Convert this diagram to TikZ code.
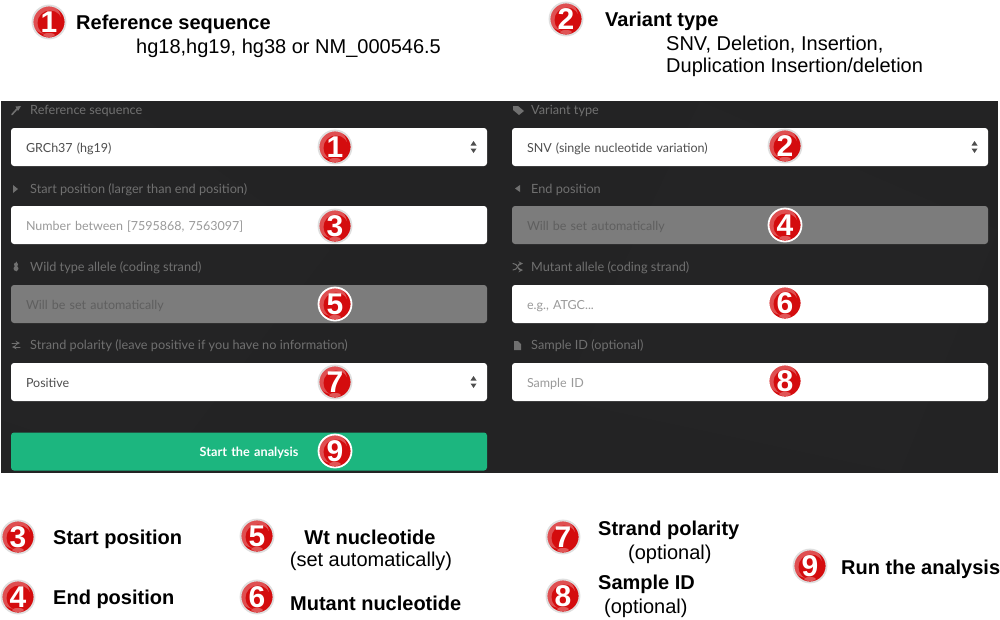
\documentclass[tikz,border=0pt]{standalone}
\usepackage{fontspec}
\setmainfont{Liberation Sans}
\newfontfamily\uifont{Lato}
\definecolor{panelbg}{HTML}{232324}
\definecolor{labelgray}{HTML}{707070}
\definecolor{hintgray}{HTML}{9A9A9A}
\definecolor{offgray}{HTML}{7C7C7C}
\definecolor{offtext}{HTML}{5F5F5F}
\definecolor{valuegray}{HTML}{4E4E4E}
\definecolor{runVgreen}{HTML}{1CB67F}
\definecolor{badgered}{HTML}{D40C0E}
\begin{document}
\begin{tikzpicture}[x=1pt,y=-1pt,line join=round,line cap=round]
	\tikzset{
		badge/.style={circle,minimum size=33pt,inner sep=0pt,draw=#1,line width=1.8pt,fill=badgered,text=white,font=\fontsize{30}{30}\selectfont\bfseries,
			path picture={\fill[white,opacity=0.28] ([xshift=-3pt,yshift=3pt]path picture bounding box.center) circle (15pt);
				\fill[badgered] ([xshift=1pt,yshift=-1pt]path picture bounding box.center) circle (12.5pt);
				\fill[white,opacity=0.3] ([yshift=-13pt]path picture bounding box.center) ellipse (6pt and 2pt);}},
		badge/.default=gray!25,
		title/.style={font=\fontsize{20}{20}\selectfont\bfseries,anchor=west,inner sep=0pt,yshift=-1pt},
		plain/.style={font=\fontsize{20}{20}\selectfont,anchor=west,inner sep=0pt,yshift=-1pt},
		fieldlabel/.style={font=\uifont\fontsize{12.7}{12.7}\selectfont,text=labelgray,anchor=west,inner sep=0pt,yshift=-1pt},
		fieldbox/.style={rectangle,rounded corners=3pt,minimum width=476pt,minimum height=38pt,text width=446pt,text height=10pt,text depth=0pt,inner sep=0pt,align=left,fill=white,font=\uifont\fontsize{12.5}{12.5}\selectfont},
		icon/.style={fill=labelgray,draw=none}
	}
	\useasboundingbox (0,0) rectangle (1000,619);
	\fill[white] (0,0) rectangle (1000,619);
	% dark form
	\fill[panelbg] (1,101) rectangle (998,473);
	\fill[white,opacity=0.008] (120,101)--(330,250)--(160,473)--(1,420)--(1,101)--cycle;
	\fill[white,opacity=0.008] (700,101)--(998,230)--(900,473)--(560,400)--cycle;
	% labels of the fields
	\node[fieldlabel] (lblref) at (30,110) {Reference sequence};
	\node[fieldlabel] (lblstart) at (30,188.5) {Start position (larger than end position)};
	\node[fieldlabel] (lblwt) at (30,266.5) {Wild type allele (coding strand)};
	\node[fieldlabel] (lblstrand) at (30,345) {Strand polarity (leave positive if you have no information)};
	\node[fieldlabel] (lblvar) at (531,110) {Variant type};
	\node[fieldlabel] (lblend) at (531,188.5) {End position};
	\node[fieldlabel] (lblmut) at (531,266.5) {Mutant allele (coding strand)};
	\node[fieldlabel] (lblsample) at (531,345) {Sample ID (optional)};
	% small icons
	\draw[labelgray,line width=1.6pt] (12,114.5)--(17,109);
	\fill[icon] (15.5,106.5)--(21,106)--(18,111)--cycle;
	\fill[icon] (13,185)--(18,189)--(13,193)--cycle;
	\fill[icon] (16,264.5) circle (2pt) (16,268.5) circle (2.5pt);
	\draw[labelgray,line width=0.9pt] (16,262)--(16,271);
	\draw[labelgray,line width=1pt,->,>=stealth] (12,343)--(20,343);
	\draw[labelgray,line width=1pt,->,>=stealth] (20,347)--(12,347);
	\fill[icon] (513,106)--(518,106)--(524,111)--(519,115)--(513,110)--cycle;
	\fill[icon] (520,185)--(515,188.5)--(520,192)--cycle;
	\draw[labelgray,line width=1pt,->,>=stealth] (513,263.5)..controls (518,263.5) and (518,270)..(523,270);
	\draw[labelgray,line width=1pt,->,>=stealth] (513,270)..controls (518,270) and (518,263.5)..(523,263.5);
	\fill[icon] (514,341)--(518,341)--(521,344)--(521,350)--(514,350)--cycle;
	% input boxes
	\node[fieldbox,text=valuegray] (boxref) at (249,147) {GRCh37 (hg19)};
	\node[fieldbox,text=hintgray] (boxstart) at (249,225) {Number between [7595868, 7563097]};
	\node[fieldbox,fill=offgray,text=offtext] (boxwt) at (249,304) {Will be set automatically};
	\node[fieldbox,text=valuegray] (boxstrand) at (249,382) {Positive};
	\node[fieldbox,fill=runVgreen,text=white,align=center,font=\uifont\fontsize{12.7}{12.7}\selectfont\bfseries] (boxrun) at (249,451.5) {Start the analysis};
	\node[fieldbox,text=valuegray] (boxvar) at (750,147) {SNV (single nucleotide variation)};
	\node[fieldbox,fill=offgray,text=offtext] (boxend) at (750,225) {Will be set automatically};
	\node[fieldbox,text=hintgray] (boxmut) at (750,304) {e.g., ATGC...};
	\node[fieldbox,text=hintgray] (boxsample) at (750,382) {Sample ID};
	% select arrows
	\foreach \x/\y in {473.5/147,974.5/147,473.5/382}{
		\fill[valuegray] (\x-3,\y-1.5)--(\x+3,\y-1.5)--(\x,\y-6)--cycle;
		\fill[valuegray] (\x-3,\y+1.5)--(\x+3,\y+1.5)--(\x,\y+6)--cycle;
	}
	% badges on the form
	\foreach \n/\x/\y/\rim in {1/335/147/gray!25,2/785/146/gray!25,3/335/226/gray!25,4/785/225/white,5/335/304/white,6/785/303/white,7/335/382/gray!25,8/785/381/white,9/335/451/white}
		\node[badge=\rim] (form\n) at (\x,\y) {\n};
	% badges of the captions
	\foreach \n/\x/\y in {1/49/22,2/566/19,3/18/537,4/18/597,5/257/536,6/257/597,7/563/537,8/563/596,9/810/566}
		\node[badge] (key\n) at (\x,\y) {\n};
	% captions
	\node[title] (capref) at (76,23) {Reference sequence};
	\node[plain] (capbuilds) at (136,47) {hg18,hg19, hg38 or NM\_000546.5};
	\node[title] (capvar) at (605,20) {Variant type};
	\node[plain] (captypesa) at (666,44) {SNV, Deletion, Insertion,};
	\node[plain] (captypesb) at (666,66) {Duplication Insertion/deletion};
	\node[title] (capstart) at (53,538) {Start position};
	\node[title] (capend) at (53,598) {End position};
	\node[title,anchor=center] (capwt) at (370,536) {Wt nucleotide};
	\node[plain,anchor=center] (capwtauto) at (371,560) {(set automatically)};
	\node[title] (capmut) at (290,602.5) {Mutant nucleotide};
	\node[title] (capstrand) at (598,529) {Strand polarity};
	\node[plain] (capstrandopt) at (628,553) {(optional)};
	\node[title] (capsample) at (598,583) {Sample ID};
	\node[plain] (capsampleopt) at (604,607) {(optional)};
	\node[title] (caprun) at (841,568) {Run the analysis};
\end{tikzpicture}
\end{document}
